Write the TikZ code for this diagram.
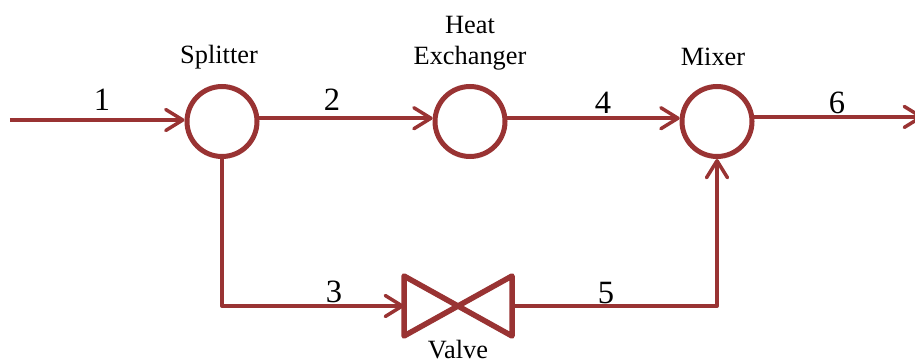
\documentclass[tikz,border=0pt]{standalone}
\usepackage{fontspec}
\setmainfont{Liberation Serif}
\usetikzlibrary{arrows.meta}
\definecolor{pipecolor}{RGB}{153,51,51}
\tikzset{
    unit/.style={circle, draw=pipecolor, line width=0.1cm, minimum size=1.4cm, inner sep=0pt},
    pipe/.style={draw=pipecolor, line width=0.08cm, line join=round, -{Straight Barb[length=0.34cm, width=0.42cm, line width=0.07cm, round]}},
    namelabel/.style={font=\fontsize{15}{15}\selectfont, inner sep=0pt},
    streamlabel/.style={font=\fontsize{18.5}{18.5}\selectfont, inner sep=0pt}
}
\begin{document}
\begin{tikzpicture}
        \useasboundingbox (0,0) rectangle (18.3,7.24);

        % Draw units
        \node[unit] (splitter) at (4.44,4.81) {};
        \node[unit] (exchanger) at (9.40,4.81) {};
        \node[unit] (mixer) at (14.34,4.81) {};
        \node[minimum width=2.16cm, minimum height=1.2cm, inner sep=0pt, outer sep=0pt] (valve) at (9.16,1.12) {};
        \draw[draw=pipecolor, line width=0.11cm, line join=round] (valve.north west) -- (valve.south east) -- (valve.north east) -- (valve.south west) -- cycle;

        % Draw free ends
        \coordinate (feed) at (0.2,4.84);
        \coordinate (product) at (18.46,4.89);

        % Draw pipes
        \draw[pipe] (feed) -- (splitter.west |- feed);
        \draw[pipe] (splitter.5) -- (exchanger.175);
        \draw[pipe] (exchanger.5) -- (mixer.175);
        \draw[pipe] (mixer.7) -- (mixer.7 -| product);
        \draw[pipe] (splitter.south) |- (valve.west);
        \draw[pipe] (valve.east) -| (mixer.south);

        % Draw unit names
        \node[namelabel] (splittername) at (4.38,6.09) {Splitter};
        \node[namelabel] (heatname) at (9.40,6.74) {Heat};
        \node[namelabel] (exchangername) at (9.40,6.07) {Exchanger};
        \node[namelabel] (mixername) at (14.26,6.10) {Mixer};
        \node[namelabel] (valvename) at (9.16,0.25) {Valve};

        % Draw stream numbers
        \node[streamlabel] (s1) at (2.04,5.24) {1};
        \node[streamlabel] (s2) at (6.64,5.24) {2};
        \node[streamlabel] (s3) at (6.68,1.40) {3};
        \node[streamlabel] (s4) at (12.06,5.18) {4};
        \node[streamlabel] (s5) at (12.12,1.38) {5};
        \node[streamlabel] (s6) at (16.74,5.18) {6};
    \end{tikzpicture}
\end{document}
